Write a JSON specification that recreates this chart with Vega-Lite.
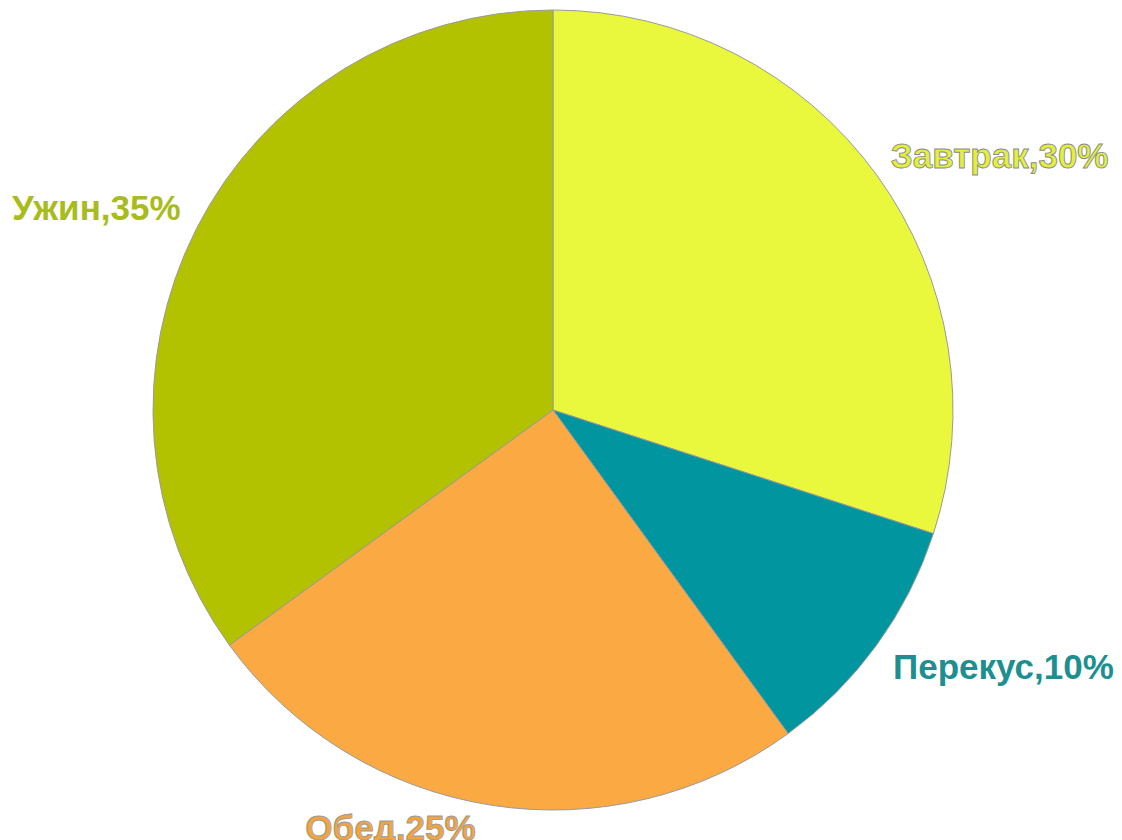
{
  "$schema": "https://vega.github.io/schema/vega-lite/v6.json",
  "width": 1106,
  "height": 820,
  "autosize": {"type": "none"},
  "padding": {"left": 0, "top": 0, "right": 16, "bottom": 20},
  "background": "#ffffff",
  "config": {"view": {"stroke": null}},
  "data": {
    "values": [
      {"i": 1, "meal": "Завтрак", "pct": 30, "label": "Завтрак,30%"},
      {"i": 2, "meal": "Перекус", "pct": 10, "label": "Перекус,10%"},
      {"i": 3, "meal": "Обед", "pct": 25, "label": "Обед,25%"},
      {"i": 4, "meal": "Ужин", "pct": 35, "label": "Ужин,35%"}
    ]
  },
  "encoding": {
    "theta": {"field": "pct", "type": "quantitative", "stack": true},
    "order": {"field": "i", "type": "ordinal"}
  },
  "layer": [
    {
      "mark": {"type": "arc", "outerRadius": 400, "stroke": "#9a9a9a", "strokeWidth": 1},
      "encoding": {
        "color": {
          "field": "meal", "type": "nominal", "legend": null,
          "scale": {"domain": ["Завтрак", "Перекус", "Обед", "Ужин"], "range": ["#E9F83C", "#00959F", "#FBA942", "#B3C200"]}
        }
      }
    },
    {
      "mark": {"type": "text", "radius": 510, "dx": 34, "dy": 47, "font": "Liberation Sans", "fontWeight": "bold", "fontSize": 35, "align": "center", "baseline": "middle", "fill": "#E2F03C", "stroke": "#8a8a8a", "strokeWidth": 0.9},
      "encoding": {"text": {"condition": {"test": "datum.meal === 'Завтрак'", "field": "label"}, "value": ""}}
    },
    {
      "mark": {"type": "text", "radius": 516, "dx": 33, "dy": -45, "font": "Liberation Sans", "fontWeight": "bold", "fontSize": 35, "align": "center", "baseline": "middle", "fill": "#1E8F90"},
      "encoding": {"text": {"condition": {"test": "datum.meal === 'Перекус'", "field": "label"}, "value": ""}}
    },
    {
      "mark": {"type": "text", "radius": 438, "dx": -94, "dy": -14, "font": "Liberation Sans", "fontWeight": "bold", "fontSize": 35, "align": "center", "baseline": "middle", "fill": "#F3A43E", "stroke": "#9a9a9a", "strokeWidth": 0.9},
      "encoding": {"text": {"condition": {"test": "datum.meal === 'Обед'", "field": "label"}, "value": ""}}
    },
    {
      "mark": {"type": "text", "radius": 498, "dx": -13, "dy": 25, "font": "Liberation Sans", "fontWeight": "bold", "fontSize": 35, "align": "center", "baseline": "middle", "fill": "#A9BC1E"},
      "encoding": {"text": {"condition": {"test": "datum.meal === 'Ужин'", "field": "label"}, "value": ""}}
    }
  ]
}
